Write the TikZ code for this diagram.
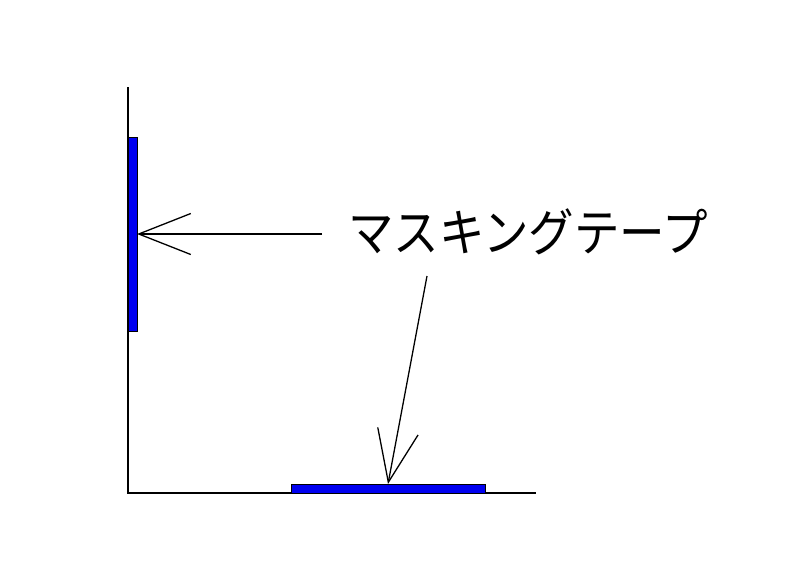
\documentclass[tikz,border=0pt]{standalone}
\usepackage{fontspec}
\newfontfamily\jpfont{Noto Sans CJK JP}
\usetikzlibrary{arrows.meta}
\begin{document}
\begin{tikzpicture}[x=1pt,y=-1pt,
  line/.style={line width=1.3pt,black},
  tape/.style={draw=black,line width=0.9pt,fill={rgb,255:red,0;green,0;blue,240},inner sep=0pt,outer sep=0pt},
  pointer/.style={line,-{Straight Barb[length=52pt,width=41pt,line width=1.3pt]}}]
\useasboundingbox (0,0) rectangle (800,565);
\coordinate (top) at (128,87);
\coordinate (origin) at (128,493);
\coordinate (right) at (536,493);
\draw[line] (top) -- (origin) -- (right);
\node[tape,minimum width=9pt,minimum height=194pt] (tapeV) at (132.5,234) {};
\node[tape,minimum width=194pt,minimum height=9pt] (tapeH) at (388,488.5) {};
\node[font=\jpfont\fontsize{45.5}{50}\selectfont,inner sep=0pt,yscale=1.12] (label) at (528,232) {マスキングテープ};
\coordinate (s1) at (322,234);
\coordinate (s2) at (427,276);
\draw[pointer] (s1) -- (tapeV.east);
\draw[pointer] (s2) -- (tapeH.north);
\end{tikzpicture}
\end{document}
